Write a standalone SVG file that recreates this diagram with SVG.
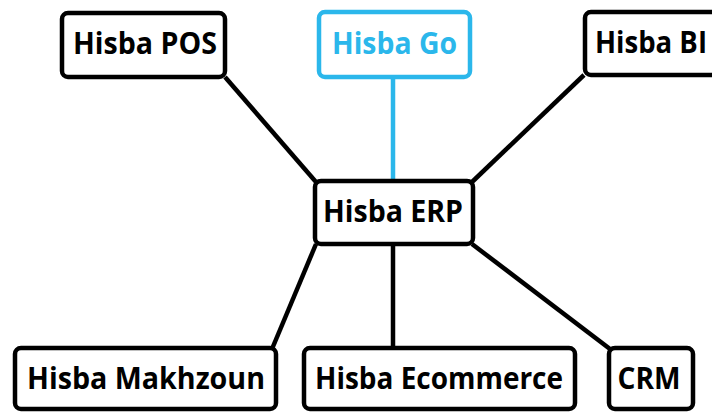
<svg xmlns="http://www.w3.org/2000/svg" width="712" height="412" viewBox="0 0 712 412">
<style>
.box{fill:#fff;stroke:#000;stroke-width:4.5}
.blue{stroke:#2bb7eb}
.t{font-family:"Open Sans","DejaVu Sans",sans-serif;font-weight:700;font-size:30px;fill:#000;text-anchor:middle}
.tb{fill:#2bb7eb}
.c{stroke:#000;stroke-width:4.5;fill:none}
</style>
<rect width="712" height="412" fill="#fff"/>
<g id="connectors">
<line class="c" x1="225" y1="77" x2="316" y2="182"/>
<line class="c" x1="584" y1="75" x2="472" y2="182"/>
<line class="c" x1="393" y1="77" x2="393" y2="181" style="stroke:#2bb7eb"/>
<line class="c" x1="316" y1="244" x2="272" y2="349"/>
<line class="c" x1="393" y1="244" x2="393" y2="348"/>
<line class="c" x1="472" y1="244" x2="610" y2="349"/>
</g>
<g id="pos"><rect class="box" x="62" y="13" width="163" height="64" rx="6"/><text class="t" x="145" y="54" textLength="144" lengthAdjust="spacingAndGlyphs">Hisba POS</text></g>
<g id="go"><rect class="box blue" x="319" y="12" width="151" height="65" rx="6"/><text class="t tb" x="394.5" y="54" textLength="125" lengthAdjust="spacingAndGlyphs">Hisba Go</text></g>
<g id="bi"><rect class="box" x="585" y="12" width="140" height="63" rx="6"/><text class="t" x="651" y="53" textLength="112" lengthAdjust="spacingAndGlyphs">Hisba BI</text></g>
<g id="erp"><rect class="box" x="315" y="181" width="158" height="63" rx="6"/><text class="t" x="393" y="222" textLength="140" lengthAdjust="spacingAndGlyphs">Hisba ERP</text></g>
<g id="makhzoun"><rect class="box" x="15" y="348" width="261" height="61" rx="6"/><text class="t" x="146" y="389" textLength="238" lengthAdjust="spacingAndGlyphs">Hisba Makhzoun</text></g>
<g id="ecommerce"><rect class="box" x="304" y="348" width="271" height="61" rx="6"/><text class="t" x="439" y="389" textLength="248" lengthAdjust="spacingAndGlyphs">Hisba Ecommerce</text></g>
<g id="crm"><rect class="box" x="609" y="348" width="84" height="61" rx="6"/><text class="t" x="649" y="389" textLength="63" lengthAdjust="spacingAndGlyphs">CRM</text></g>
</svg>
